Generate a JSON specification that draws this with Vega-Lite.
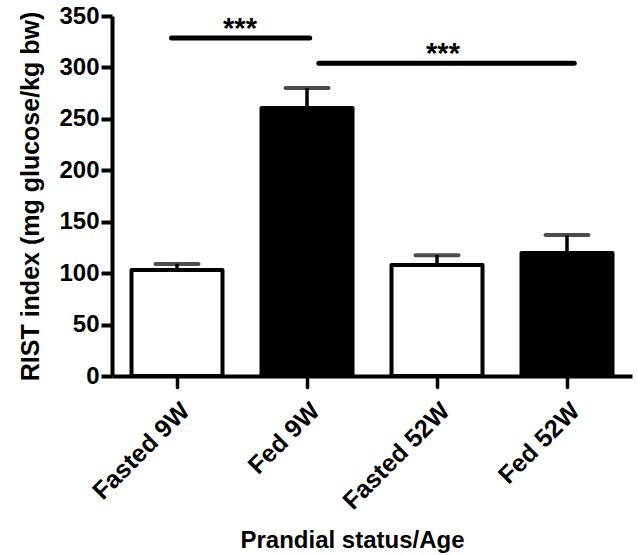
{
  "$schema": "https://vega.github.io/schema/vega-lite/v6.json",
  "autosize": "none",
  "width": 520,
  "height": 360,
  "padding": {"left": 112, "top": 16, "right": 6, "bottom": 179},
  "background": "white",
  "config": {
    "view": {"stroke": null},
    "font": "Liberation Sans"
  },
  "datasets": {
    "bars": [
      {"group": "Fasted 9W", "status": "Fasted", "mean": 103, "upper": 109},
      {"group": "Fed 9W", "status": "Fed", "mean": 260.5, "upper": 280},
      {"group": "Fasted 52W", "status": "Fasted", "mean": 108, "upper": 117.5},
      {"group": "Fed 52W", "status": "Fed", "mean": 119.5, "upper": 137}
    ],
    "sig": [
      {"from": "Fasted 9W", "to": "Fed 9W", "y": 328.6, "label": "***"},
      {"from": "Fed 9W", "to": "Fed 52W", "y": 304, "label": "***"}
    ]
  },
  "layer": [
    {
      "data": {"name": "bars"},
      "mark": {"type": "rule", "strokeWidth": 3.5, "color": "black"},
      "encoding": {
        "x": {"field": "group", "type": "nominal", "sort": null,
          "scale": {"paddingInner": 0.3, "paddingOuter": 0.15},
          "axis": {
            "title": "Prandial status/Age",
            "titleFontSize": 24, "titleFontWeight": "bold", "titleColor": "black",
            "titleX": 240, "titleY": 171, "titleBaseline": "alphabetic", "titleAnchor": "middle", "titleAlign": "center",
            "labelAngle": -45, "labelFontSize": 25, "labelFontWeight": "bold", "labelColor": "black",
            "labelPadding": 11,
            "domainColor": "black", "domainWidth": 4,
            "tickColor": "black", "tickWidth": 3.5, "tickSize": 11, "tickCap": "round"
          }
        },
        "y": {"field": "mean", "type": "quantitative"},
        "y2": {"field": "upper"}
      }
    },
    {
      "data": {"name": "bars"},
      "mark": {"type": "bar", "stroke": "black", "strokeWidth": 4, "strokeJoin": "round"},
      "encoding": {
        "x": {"field": "group", "type": "nominal", "sort": null},
        "y": {"field": "mean", "type": "quantitative",
          "scale": {"domain": [0, 350], "nice": false},
          "axis": {
            "title": "RIST index (mg glucose/kg bw)",
            "titleFontSize": 25, "titleFontWeight": "bold", "titleColor": "black", "titlePadding": 15,
            "values": [0, 50, 100, 150, 200, 250, 300, 350],
            "labelFontSize": 24, "labelFontWeight": "bold", "labelColor": "black", "labelPadding": 2,
            "domainColor": "black", "domainWidth": 4,
            "tickColor": "black", "tickWidth": 4, "tickSize": 11,
            "grid": false
          }
        },
        "fill": {"field": "status", "type": "nominal",
          "scale": {"domain": ["Fasted", "Fed"], "range": ["white", "black"]}, "legend": null}
      }
    },
    {
      "data": {"name": "bars"},
      "mark": {"type": "tick", "orient": "horizontal", "size": 47, "thickness": 4, "color": "black", "cornerRadius": 2},
      "encoding": {
        "x": {"field": "group", "type": "nominal", "sort": null},
        "y": {"field": "upper", "type": "quantitative"}
      }
    },
    {
      "data": {"name": "sig"},
      "transform": [{"filter": "datum.from == 'Fasted 9W'"}],
      "mark": {"type": "rule", "strokeWidth": 5, "strokeCap": "round", "color": "black"},
      "encoding": {
        "x": {"field": "from", "type": "nominal", "sort": null, "bandPosition": 0.44},
        "x2": {"field": "to", "bandPosition": 0.53},
        "y": {"field": "y", "type": "quantitative"}
      }
    },
    {
      "data": {"name": "sig"},
      "transform": [{"filter": "datum.from == 'Fed 9W'"}],
      "mark": {"type": "rule", "strokeWidth": 5, "strokeCap": "round", "color": "black"},
      "encoding": {
        "x": {"field": "from", "type": "nominal", "sort": null, "bandPosition": 0.63},
        "x2": {"field": "to", "bandPosition": 0.58},
        "y": {"field": "y", "type": "quantitative"}
      }
    },
    {
      "data": {"name": "sig"},
      "transform": [{"filter": "datum.from == 'Fasted 9W'"}],
      "mark": {"type": "text", "fontSize": 29, "fontWeight": "bold", "dx": 63, "dy": 0, "baseline": "alphabetic", "color": "black"},
      "encoding": {
        "x": {"field": "from", "type": "nominal", "sort": null},
        "y": {"field": "y", "type": "quantitative"},
        "text": {"field": "label"}
      }
    },
    {
      "data": {"name": "sig"},
      "transform": [{"filter": "datum.from == 'Fed 9W'"}],
      "mark": {"type": "text", "fontSize": 29, "fontWeight": "bold", "dx": 136, "dy": 0, "baseline": "alphabetic", "color": "black"},
      "encoding": {
        "x": {"field": "from", "type": "nominal", "sort": null},
        "y": {"field": "y", "type": "quantitative"},
        "text": {"field": "label"}
      }
    }
  ]
}
